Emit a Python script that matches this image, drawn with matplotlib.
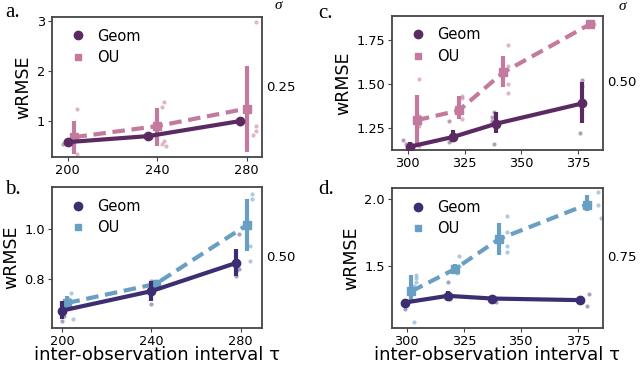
import matplotlib

matplotlib.use("Agg")
import matplotlib.pyplot as plt
from matplotlib.lines import Line2D

# =========================
# Datos
# =========================

# panel a (sigma 0.25)
a_geom_x = [200, 236, 277]
a_geom_y = [0.58, 0.70, 1.00]
a_geom_lo = [0.54, 0.66, 0.95]
a_geom_hi = [0.62, 0.74, 1.04]
a_ou_x = [203, 240, 280]
a_ou_y = [0.68, 0.90, 1.25]
a_ou_lo = [0.35, 0.50, 0.38]
a_ou_hi = [1.00, 1.27, 2.10]
a_geom_pts_x = [198, 199, 201, 235, 237, 276, 277]
a_geom_pts_y = [0.55, 0.60, 0.57, 0.72, 0.68, 1.02, 0.95]
a_ou_pts_x = [204, 204, 202, 243, 242, 243, 242, 244, 284, 284, 284, 283]
a_ou_pts_y = [1.25, 0.35, 0.62, 1.38, 1.28, 0.60, 0.55, 0.50, 2.97, 0.90, 0.80, 0.72]

# panel b (sigma 0.50)
b_geom_x = [200, 240, 278]
b_geom_y = [0.673, 0.751, 0.864]
b_geom_lo = [0.64, 0.71, 0.81]
b_geom_hi = [0.71, 0.79, 0.92]
b_ou_x = [202.5, 242, 283]
b_ou_y = [0.704, 0.78, 1.017]
b_ou_lo = [0.68, 0.77, 0.91]
b_ou_hi = [0.73, 0.79, 1.12]
b_geom_pts_x = [200, 201, 200, 240, 240, 279, 278, 278, 279]
b_geom_pts_y = [0.63, 0.65, 0.70, 0.70, 0.79, 0.98, 0.83, 0.81, 0.84]
b_ou_pts_x = [204, 205, 203, 242, 243, 285, 285, 284, 284]
b_ou_pts_y = [0.745, 0.64, 0.72, 0.79, 0.77, 1.14, 1.12, 0.93, 0.87]

# panel c (sigma 0.50)
c_geom_x = [301, 320, 339, 377]
c_geom_y = [1.145, 1.20, 1.275, 1.39]
c_geom_lo = [1.12, 1.17, 1.22, 1.28]
c_geom_hi = [1.17, 1.24, 1.34, 1.51]
c_ou_x = [304, 322.5, 342, 380.5]
c_ou_y = [1.295, 1.35, 1.565, 1.84]
c_ou_lo = [1.14, 1.30, 1.48, 1.83]
c_ou_hi = [1.44, 1.43, 1.66, 1.85]
c_geom_pts_x = [298, 299, 299, 298, 318, 319, 318, 338, 337, 338, 337, 377, 377, 377, 376]
c_geom_pts_y = [1.18, 1.16, 1.12, 1.11, 1.29, 1.18, 1.17, 1.34, 1.31, 1.16, 1.29, 1.52, 1.49, 1.38, 1.22]
c_ou_pts_x = [305, 305, 305, 305, 324, 324, 324, 344, 344, 344, 344, 382]
c_ou_pts_y = [1.53, 1.32, 1.26, 1.15, 1.43, 1.42, 1.30, 1.72, 1.60, 1.50, 1.45, 1.84]

# panel d (sigma 0.75)
d_geom_x = [299, 318, 337.5, 376]
d_geom_y = [1.226, 1.276, 1.256, 1.244]
d_geom_lo = [1.20, 1.24, 1.24, 1.22]
d_geom_hi = [1.25, 1.31, 1.27, 1.27]
d_ou_x = [302, 321, 340.5, 379]
d_ou_y = [1.31, 1.475, 1.70, 1.957]
d_ou_lo = [1.22, 1.44, 1.58, 1.91]
d_ou_hi = [1.43, 1.51, 1.82, 2.03]
d_geom_pts_x = [299, 300, 318, 318, 319, 339, 380, 379]
d_geom_pts_y = [1.18, 1.22, 1.38, 1.30, 1.25, 1.23, 1.29, 1.20]
d_ou_pts_x = [304, 304, 304, 303, 303, 323, 323, 322, 344, 344, 344, 344, 384, 384, 385]
d_ou_pts_y = [1.43, 1.41, 1.38, 1.35, 1.08, 1.57, 1.50, 1.45, 1.87, 1.75, 1.65, 1.60, 2.05, 1.95, 1.86]

sigma_labels = ["0.25", "0.50", "0.50", "0.75"]
panel_letters = ["a.", "b.", "c.", "d."]

COLORES_ROSA = ("#5c2a62", "#c47a9e")
COLORES_AZUL = ("#3d2d72", "#6a9fc4")


def dibujar_panel(ax, geom, ou, geom_pts, ou_pts, colores):
    c_geom, c_ou = colores
    ax.scatter(*geom_pts, s=9, color=c_geom, alpha=0.45, lw=0, zorder=2)
    ax.scatter(*ou_pts, s=9, color=c_ou, alpha=0.55, lw=0, zorder=2)
    gx, gy, glo, ghi = geom
    ox, oy, olo, ohi = ou
    ax.plot(gx, gy, color=c_geom, lw=3, marker="o", ms=6, zorder=4)
    ax.vlines(gx, glo, ghi, color=c_geom, lw=3, zorder=4)
    ax.plot(ox, oy, color=c_ou, lw=3, ls=(0, (3, 1.6)), marker="s", ms=6, zorder=3)
    ax.vlines(ox, olo, ohi, color=c_ou, lw=3, zorder=3)
    for spine in ax.spines.values():
        spine.set_color("#444444")
        spine.set_linewidth(1.3)
    ax.tick_params(labelsize=9.3, length=3, color="#444444", pad=2)
    ax.set_ylabel("wRMSE", fontsize=12.5, labelpad=3)
    handles = [
        Line2D([], [], ls="", marker="o", ms=6, color=c_geom),
        Line2D([], [], ls="", marker="s", ms=5, color=c_ou),
    ]
    ax.legend(handles, ["Geom", "OU"], loc="upper left", frameon=False,
              fontsize=10.5, handletextpad=0.3, borderaxespad=0.6,
              labelspacing=0.45, borderpad=0.2)


fig = plt.figure(figsize=(6.4, 3.68), dpi=100)
ax_a = fig.add_axes([0.081, 0.573, 0.328, 0.381])
ax_b = fig.add_axes([0.081, 0.109, 0.328, 0.383])
ax_c = fig.add_axes([0.6125, 0.592, 0.3295, 0.365])
ax_d = fig.add_axes([0.6125, 0.109, 0.3295, 0.380])

dibujar_panel(ax_a, (a_geom_x, a_geom_y, a_geom_lo, a_geom_hi),
              (a_ou_x, a_ou_y, a_ou_lo, a_ou_hi),
              (a_geom_pts_x, a_geom_pts_y), (a_ou_pts_x, a_ou_pts_y), COLORES_ROSA)
dibujar_panel(ax_b, (b_geom_x, b_geom_y, b_geom_lo, b_geom_hi),
              (b_ou_x, b_ou_y, b_ou_lo, b_ou_hi),
              (b_geom_pts_x, b_geom_pts_y), (b_ou_pts_x, b_ou_pts_y), COLORES_AZUL)
dibujar_panel(ax_c, (c_geom_x, c_geom_y, c_geom_lo, c_geom_hi),
              (c_ou_x, c_ou_y, c_ou_lo, c_ou_hi),
              (c_geom_pts_x, c_geom_pts_y), (c_ou_pts_x, c_ou_pts_y), COLORES_ROSA)
dibujar_panel(ax_d, (d_geom_x, d_geom_y, d_geom_lo, d_geom_hi),
              (d_ou_x, d_ou_y, d_ou_lo, d_ou_hi),
              (d_geom_pts_x, d_geom_pts_y), (d_ou_pts_x, d_ou_pts_y), COLORES_AZUL)

ax_a.set_xlim(192.9, 286.7)
ax_a.set_ylim(0.28, 3.08)
ax_a.set_xticks([200, 240, 280])
ax_a.set_yticks([1, 2, 3])

ax_b.set_xlim(195.5, 289.4)
ax_b.set_ylim(0.604, 1.168)
ax_b.set_xticks([200, 240, 280])
ax_b.set_yticks([0.8, 1.0])

ax_c.set_xlim(293, 386)
ax_c.set_ylim(1.125, 1.886)
ax_c.set_xticks([300, 325, 350, 375])
ax_c.set_yticks([1.25, 1.50, 1.75])

ax_d.set_xlim(293.5, 386)
ax_d.set_ylim(1.037, 2.08)
ax_d.set_xticks([300, 325, 350, 375])
ax_d.set_yticks([1.5, 2.0])

for ax in (ax_b, ax_d):
    ax.set_xlabel("inter-observation interval τ", fontsize=13, labelpad=-1)

for ax, sig in zip((ax_a, ax_b, ax_c, ax_d), sigma_labels):
    ax.text(1.02, 0.5, sig, transform=ax.transAxes, fontsize=9.5,
            va="center", ha="left")

letra_pos = [(0.008, 0.965), (0.008, 0.484), (0.497, 0.962), (0.497, 0.484)]
for letra, (px, py) in zip(panel_letters, letra_pos):
    fig.text(px, py, letra, fontsize=15, family="Liberation Serif",
             va="center", ha="left")

fig.text(0.435, 0.984, "σ", fontsize=11, family="Liberation Serif",
         style="italic", ha="center", va="center")
fig.text(0.972, 0.982, "σ", fontsize=11, family="Liberation Serif",
         style="italic", ha="center", va="center")

fig.savefig("out.png", dpi=100)
